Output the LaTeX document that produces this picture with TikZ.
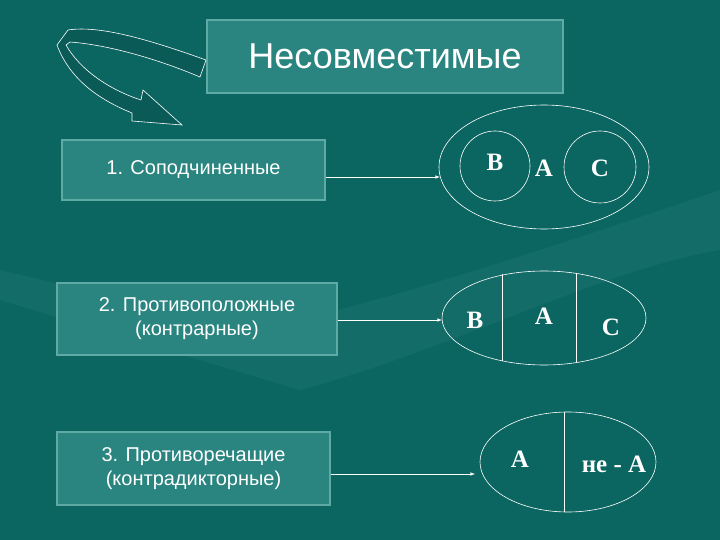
\documentclass[tikz,border=0pt]{standalone}
\usepackage{fontspec}
\usetikzlibrary{shapes.geometric}
\setmainfont{Liberation Sans}
\newfontfamily\serifx{Liberation Serif}
\definecolor{bg}{HTML}{0B6662}
\definecolor{boxf}{HTML}{2A8580}
\definecolor{boxe}{HTML}{5FAAA5}
\definecolor{ribbon}{HTML}{0A5A57}
\begin{document}
\begin{tikzpicture}[x=1pt,y=-1pt,
  card/.style={draw=boxe,line width=1.5pt,fill=boxf,inner sep=0pt,align=center},
  lbl/.style={text=white,font=\fontsize{20}{24}\selectfont,align=center},
  lt/.style={draw=white,line width=0.6pt},
  arr/.style={draw=white,line width=0.6pt,-latex},
  let/.style={text=white,font=\serifx\bfseries\fontsize{25}{26}\selectfont}]
\fill[bg] (0,0) rectangle (720,540);
\useasboundingbox (0,0) rectangle (720,540);
% faint hand shape
\fill[white,opacity=0.04] (0,270) -- (250,330) .. controls (300,320) and (400,300) .. (720,190) -- (720,250) .. controls (600,270) and (450,350) .. (300,390) -- (0,300) -- cycle;
% ribbon arrow
\draw[lt,fill=ribbon] (206,60) .. controls (150,40) and (100,25) .. (68,30) -- (57,45)
  .. controls (70,80) and (100,100) .. (132,113) -- (132,121) -- (182,125) -- (143,90) -- (141,100)
  .. controls (110,90) and (80,70) .. (66,45) -- (70,42) .. controls (110,45) and (160,60) .. (200,77) -- cycle;
% boxes
\node[card,minimum width=356,minimum height=73] (t) at (385,56.5) {};
\node[text=white,font=\fontsize{36}{40}\selectfont] (tt) at (t) {Несовместимые};
\node[card,minimum width=263,minimum height=60] (b1) at (193.5,170) {};
\node[lbl] (b1t) at (b1) {1. Соподчиненные};
\node[card,minimum width=280,minimum height=72] (b2) at (197,319) {};
\node[lbl] (b2t) at (b2) {2. Противоположные\\(контрарные)};
\node[card,minimum width=273,minimum height=73] (b3) at (193.5,468.5) {};
\node[lbl] (b3t) at (b3) {3. Противоречащие\\(контрадикторные)};
% diagram 1
\node[lt,ellipse,minimum width=210,minimum height=124,inner sep=0pt] (e1) at (544,167) {};
\node[lt,circle,minimum size=70,inner sep=0pt] (cb) at (495,166) {};
\node[lt,circle,minimum size=72,inner sep=0pt] (cc) at (600,167) {};
\node[let] (l1b) at (495,162) {B};
\node[let] (l1a) at (544,168) {A};
\node[let] (l1c) at (600,168) {C};
% diagram 2
\node[lt,ellipse,minimum width=204,minimum height=94,inner sep=0pt] (e2) at (544,318) {};
\draw[lt] (502,274) -- (502,361);
\draw[lt] (576,273) -- (576,362);
\node[let] (l2b) at (475,320) {B};
\node[let] (l2a) at (544,316) {A};
\node[let] (l2c) at (611,327) {C};
% diagram 3
\node[lt,ellipse,minimum width=176,minimum height=100,inner sep=0pt] (e3) at (568,462) {};
\draw[lt] (e3.north) ++(-4,0) coordinate (v1) -- ++(0,100) coordinate (v2);
\node[let] (l3a) at (520,459) {A};
\node[let] (l3n) at (614,464) {не - A};
% connectors
\coordinate (a1) at (440,177);
\coordinate (a2) at (442,320);
\coordinate (a3) at (475,474);
\draw[arr] (b1.east |- a1) -- (a1);
\draw[arr] (b2.east |- a2) -- (a2);
\draw[arr] (b3.east |- a3) -- (a3);
\end{tikzpicture}
\end{document}
